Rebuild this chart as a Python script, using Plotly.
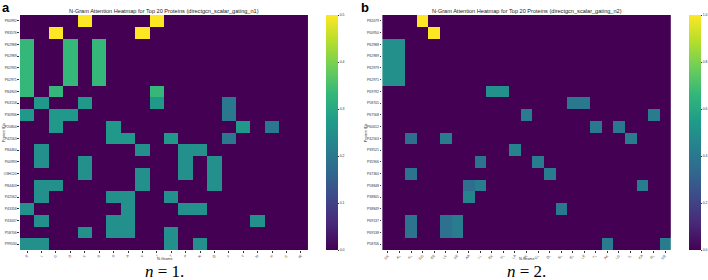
import plotly.graph_objects as go

# ---------------- data ----------------
proteins_n1 = ["P60992", "P83576", "P62988", "P62989", "P62935", "P62971", "P84903",
               "P63158", "P30936", "P20804", "P42563", "P84464", "P00993", "O3H120",
               "P84403", "P42562", "P43358", "P43037", "P58706", "P99530"]
ngrams_n1 = ["E", "L", "G", "D", "K", "R", "S", "A", "V", "I",
             "T", "P", "N", "Q", "F", "Y", "M", "H", "C", "W"]

# attention values per protein row (20 rows x 20 n-grams)
z_n1 = [
    [0, 0, 0, 0, .5, 0, 0, 0, 0, .5, 0, 0, 0, 0, 0, 0, 0, 0, 0, 0],
    [0, 0, .5, 0, 0, 0, 0, 0, .5, 0, 0, 0, 0, 0, 0, 0, 0, 0, 0, 0],
    [.333, 0, 0, .333, 0, .333, 0, 0, 0, 0, 0, 0, 0, 0, 0, 0, 0, 0, 0, 0],
    [.333, 0, 0, .333, 0, .333, 0, 0, 0, 0, 0, 0, 0, 0, 0, 0, 0, 0, 0, 0],
    [.333, 0, 0, .333, 0, .333, 0, 0, 0, 0, 0, 0, 0, 0, 0, 0, 0, 0, 0, 0],
    [.333, 0, 0, .333, 0, .333, 0, 0, 0, 0, 0, 0, 0, 0, 0, 0, 0, 0, 0, 0],
    [.333, 0, .333, 0, 0, 0, 0, 0, 0, .333, 0, 0, 0, 0, 0, 0, 0, 0, 0, 0],
    [0, .267, 0, 0, .267, 0, 0, 0, 0, .267, 0, 0, 0, 0, .2, 0, 0, 0, 0, 0],
    [.267, 0, .267, .267, 0, 0, 0, 0, 0, 0, 0, 0, 0, 0, .2, 0, 0, 0, 0, 0],
    [0, 0, .267, 0, 0, 0, .267, 0, 0, 0, 0, 0, 0, 0, 0, .267, 0, .2, 0, 0],
    [0, 0, 0, 0, 0, 0, .267, .267, 0, 0, .267, 0, 0, 0, .2, 0, 0, 0, 0, 0],
    [0, .25, 0, 0, 0, 0, 0, 0, .25, 0, 0, .25, .25, 0, 0, 0, 0, 0, 0, 0],
    [0, .25, 0, 0, .25, 0, 0, 0, 0, 0, 0, .25, 0, .25, 0, 0, 0, 0, 0, 0],
    [0, 0, 0, 0, .25, 0, 0, 0, .25, 0, 0, .25, 0, .25, 0, 0, 0, 0, 0, 0],
    [0, .25, .25, 0, 0, 0, 0, 0, .25, 0, 0, 0, 0, .25, 0, 0, 0, 0, 0, 0],
    [0, .25, 0, 0, 0, 0, .25, .25, 0, 0, .25, 0, 0, 0, 0, 0, 0, 0, 0, 0],
    [.25, 0, 0, 0, 0, 0, 0, .25, 0, 0, 0, .25, .25, 0, 0, 0, 0, 0, 0, 0],
    [0, .25, 0, 0, 0, 0, .25, .25, 0, 0, 0, 0, 0, 0, 0, 0, .25, 0, 0, 0],
    [0, 0, 0, 0, .25, 0, .25, .25, 0, 0, .25, 0, 0, 0, 0, 0, 0, 0, 0, 0],
    [.25, .25, 0, 0, 0, 0, 0, 0, 0, 0, .25, 0, .25, 0, 0, 0, 0, 0, 0, 0],
]

proteins_n2 = ["P82079", "P00950", "P62988", "P62989", "P62979", "P62971", "P69792",
               "P58705", "P67568", "P60612", "P42563", "P39521", "P35906", "P47360",
               "P58848", "P38805", "P38849", "P69137", "P69138", "P58706"]
ngrams_n2 = ["GK", "AL", "KL", "GG", "EE", "LK", "KE", "AA", "LL", "EK", "VL", "LA",
             "KK", "GL", "DL", "SL", "EL", "LE", "TL", "AK", "LG", "IL", "KA", "RL", "GE"]

# attention values per protein row (20 rows x 25 n-grams)
z_n2 = [
    [0, 0, 0, 1.0, 0, 0, 0, 0, 0, 0, 0, 0, 0, 0, 0, 0, 0, 0, 0, 0, 0, 0, 0, 0, 0],
    [0, 0, 0, 0, 1.0, 0, 0, 0, 0, 0, 0, 0, 0, 0, 0, 0, 0, 0, 0, 0, 0, 0, 0, 0, 0],
    [.5, .5, 0, 0, 0, 0, 0, 0, 0, 0, 0, 0, 0, 0, 0, 0, 0, 0, 0, 0, 0, 0, 0, 0, 0],
    [.5, .5, 0, 0, 0, 0, 0, 0, 0, 0, 0, 0, 0, 0, 0, 0, 0, 0, 0, 0, 0, 0, 0, 0, 0],
    [.5, .5, 0, 0, 0, 0, 0, 0, 0, 0, 0, 0, 0, 0, 0, 0, 0, 0, 0, 0, 0, 0, 0, 0, 0],
    [.5, .5, 0, 0, 0, 0, 0, 0, 0, 0, 0, 0, 0, 0, 0, 0, 0, 0, 0, 0, 0, 0, 0, 0, 0],
    [0, 0, 0, 0, 0, 0, 0, 0, 0, .5, .5, 0, 0, 0, 0, 0, 0, 0, 0, 0, 0, 0, 0, 0, 0],
    [0, 0, 0, 0, 0, 0, 0, 0, 0, 0, 0, 0, 0, 0, 0, 0, .4, .4, 0, 0, 0, 0, 0, 0, 0],
    [0, 0, 0, 0, 0, 0, 0, 0, 0, 0, 0, 0, .42, 0, 0, 0, 0, 0, 0, 0, 0, 0, 0, .42, 0],
    [0, 0, 0, 0, 0, 0, 0, 0, 0, 0, 0, 0, 0, 0, 0, 0, 0, 0, .4, 0, .4, 0, 0, 0, 0],
    [0, 0, .36, 0, 0, .42, 0, 0, 0, 0, 0, 0, 0, 0, 0, 0, 0, 0, 0, 0, 0, .42, 0, 0, 0],
    [0, 0, 0, 0, 0, 0, 0, 0, 0, 0, 0, .45, 0, 0, 0, 0, 0, 0, 0, 0, 0, 0, 0, 0, 0],
    [0, 0, 0, 0, 0, 0, 0, 0, .38, 0, 0, 0, 0, .42, 0, 0, 0, 0, 0, 0, 0, 0, 0, 0, 0],
    [0, 0, .38, 0, 0, 0, 0, 0, 0, 0, 0, 0, 0, 0, .42, 0, 0, 0, 0, 0, 0, 0, 0, 0, 0],
    [0, 0, 0, 0, 0, 0, 0, .36, .42, 0, 0, 0, 0, 0, 0, 0, 0, 0, 0, 0, 0, 0, .42, 0, 0],
    [0, 0, 0, 0, 0, 0, 0, .45, 0, 0, 0, 0, 0, 0, 0, 0, 0, 0, 0, 0, 0, 0, 0, 0, 0],
    [0, 0, 0, 0, 0, 0, 0, 0, 0, 0, 0, 0, 0, 0, 0, .4, 0, 0, 0, 0, 0, 0, 0, 0, 0],
    [0, 0, .38, 0, 0, .37, .42, 0, 0, 0, 0, 0, 0, 0, 0, 0, 0, 0, 0, 0, 0, 0, 0, 0, 0],
    [0, 0, .38, 0, 0, .37, .42, 0, 0, 0, 0, 0, 0, 0, 0, 0, 0, 0, 0, 0, 0, 0, 0, 0, 0],
    [0, 0, 0, 0, 0, 0, 0, 0, 0, 0, 0, 0, 0, 0, 0, 0, 0, 0, 0, .42, 0, 0, 0, 0, .42],
]

cb_ticks_n1 = [0.0, 0.1, 0.2, 0.3, 0.4, 0.5]
cb_ticks_n2 = [0.0, 0.2, 0.4, 0.6, 0.8, 1.0]

title_n1 = "N-Gram Attention Heatmap for Top 20 Proteins (directgcn_scalar_gating_n1)"
title_n2 = "N-Gram Attention Heatmap for Top 20 Proteins (directgcn_scalar_gating_n2)"

# ---------------- layout geometry ----------------
W, H = 708, 280
def px(x):
    return x / W
def py(y):
    return 1 - y / H

TOP, BOT = 15, 250
ax_a = (20, 309)
ax_b = (383.3, 672.7)
FONT = "Liberation Sans, Arial, sans-serif"
TXT = "#333333"

def cbar(xpix, ticks):
    return dict(x=px(xpix), xanchor="left", xpad=0, ypad=0,
                y=py((TOP + BOT) / 2), yanchor="middle",
                len=(BOT - TOP) / H, lenmode="fraction", thickness=12, outlinewidth=0,
                tickvals=ticks, ticktext=[f"{v:.1f}" for v in ticks],
                ticks="outside", ticklen=1.5, tickwidth=0.5, tickcolor=TXT,
                tickfont=dict(size=3.5, color=TXT, family=FONT))

fig = go.Figure()
fig.add_trace(go.Heatmap(
    z=z_n1, x=ngrams_n1, y=proteins_n1, xaxis="x", yaxis="y",
    colorscale="Viridis", zmin=0, zmax=0.5, colorbar=cbar(327, cb_ticks_n1),
))
fig.add_trace(go.Heatmap(
    z=z_n2, x=ngrams_n2, y=proteins_n2, xaxis="x2", yaxis="y2",
    colorscale="Viridis", zmin=0, zmax=1.0, colorbar=cbar(690.7, cb_ticks_n2),
))

axis_common = dict(showgrid=False, zeroline=False, showline=False, ticks="outside",
                   ticklen=1.5, tickwidth=0.5, tickcolor=TXT,
                   tickfont=dict(size=3.5, color=TXT, family=FONT))

fig.update_layout(
    width=W, height=H, margin=dict(l=0, r=0, t=0, b=0),
    paper_bgcolor="white", plot_bgcolor="white",
    xaxis=dict(domain=[px(ax_a[0]), px(ax_a[1])], anchor="y", tickangle=-45, **axis_common),
    yaxis=dict(domain=[py(BOT), py(TOP)], anchor="x", autorange="reversed", **axis_common),
    xaxis2=dict(domain=[px(ax_b[0]), px(ax_b[1])], anchor="y2", tickangle=-45, **axis_common),
    yaxis2=dict(domain=[py(BOT), py(TOP)], anchor="x2", autorange="reversed", **axis_common),
    showlegend=False,
)

annots = []
for (x0, x1), ttl in [(ax_a, title_n1), (ax_b, title_n2)]:
    cx = (x0 + x1) / 2
    annots.append(dict(x=px(cx), y=py(11), xref="paper", yref="paper", text=ttl,
                       showarrow=False, xanchor="center", yanchor="middle",
                       font=dict(size=5.6, color="#222222", family=FONT)))
    annots.append(dict(x=px(cx), y=py(259), xref="paper", yref="paper", text="N-Grams",
                       showarrow=False, xanchor="center", yanchor="middle",
                       font=dict(size=3.8, color=TXT, family=FONT)))
    annots.append(dict(x=px(x0 - 16.5), y=py((TOP + BOT) / 2), xref="paper", yref="paper",
                       text="Protein IDs", textangle=-90, showarrow=False,
                       xanchor="center", yanchor="middle",
                       font=dict(size=3.8, color=TXT, family=FONT)))

annots.append(dict(x=px(0), y=py(7), xref="paper", yref="paper", text="<b>a</b>",
                   showarrow=False, xanchor="left", yanchor="middle",
                   font=dict(size=13, color="black", family=FONT)))
annots.append(dict(x=px(360), y=py(7), xref="paper", yref="paper", text="<b>b</b>",
                   showarrow=False, xanchor="left", yanchor="middle",
                   font=dict(size=13, color="black", family=FONT)))
annots.append(dict(x=px(165), y=py(271), xref="paper", yref="paper",
                   text="<i>n</i> = 1.", showarrow=False, xanchor="center", yanchor="middle",
                   font=dict(size=17, color="black", family="Liberation Serif, serif")))
annots.append(dict(x=px(528), y=py(271), xref="paper", yref="paper",
                   text="<i>n</i> = 2.", showarrow=False, xanchor="center", yanchor="middle",
                   font=dict(size=17, color="black", family="Liberation Serif, serif")))
fig.update_layout(annotations=annots)

fig.write_html("out.html")
